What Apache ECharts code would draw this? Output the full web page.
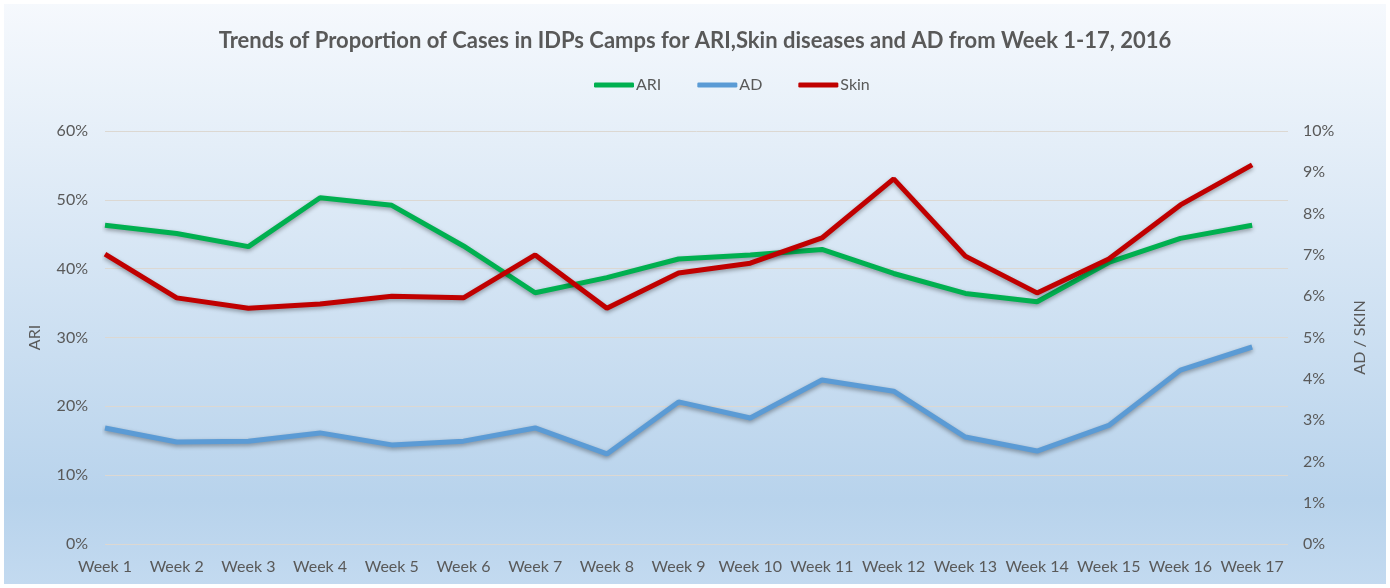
<!DOCTYPE html>
<html>
<head>
<meta charset="utf-8">
<script src="https://cdn.jsdelivr.net/npm/echarts@6/dist/echarts.min.js"></script>
<style>
  html, body { margin: 0; padding: 0; background: #fff; }
  #main { width: 1390px; height: 588px; }
</style>
</head>
<body>
<div id="main"></div>
<script>
// 周次 (x 轴)
const weeks = [1, 2, 3, 4, 5, 6, 7, 8, 9, 10, 11, 12, 13, 14, 15, 16, 17]
// 各病种占比 (%)，ARI 用左轴，AD / Skin 用右轴
const ari = [46.3, 45.1, 43.2, 50.3, 49.2, 43.3, 36.5, 38.7, 41.4, 42.0, 42.8, 39.3, 36.4, 35.2, 40.9, 44.4, 46.3]
const ad = [2.81, 2.47, 2.49, 2.69, 2.40, 2.49, 2.81, 2.18, 3.44, 3.05, 3.97, 3.70, 2.59, 2.25, 2.87, 4.21, 4.77]
const skin = [7.02, 5.96, 5.71, 5.81, 6.00, 5.96, 7.00, 5.71, 6.56, 6.80, 7.41, 8.84, 6.97, 6.08, 6.90, 8.21, 9.18]

const fontFamily = 'Lato, "Open Sans", sans-serif'
const textColor = '#595959'

// 把周次和数值拼成 [x, y] 点
function pairs(arr) {
  return weeks.map((w, i) => [w, arr[i]])
}

function lineSeries(name, color, arr, axisIndex) {
  return {
    name: name,
    type: 'line',
    yAxisIndex: axisIndex,
    data: pairs(arr),
    symbol: 'none',
    lineStyle: {
      color: color,
      width: 5,
      shadowColor: 'rgba(0,0,0,0.35)',
      shadowBlur: 4,
      shadowOffsetY: 2
    },
    itemStyle: { color: color }
  }
}

var myChart = echarts.init(document.getElementById('main'))

var option = {
  backgroundColor: new echarts.graphic.LinearGradient(0, 0, 0, 1, [
    { offset: 0, color: '#f6f9fd' },
    { offset: 0.85, color: '#b8d3ec' },
    { offset: 1, color: '#c3daf0' }
  ]),
  animation: false,
  title: {
    text: 'Trends of Proportion of Cases in IDPs Camps for ARI,Skin diseases and AD from Week 1-17, 2016',
    left: 'center',
    top: 25,
    textStyle: { fontFamily: fontFamily, fontSize: 22, fontWeight: 'bold', color: textColor }
  },
  legend: {
    top: 72,
    left: 589,
    icon: 'roundRect',
    itemWidth: 40,
    itemHeight: 5,
    itemGap: 36,
    textStyle: { fontFamily: fontFamily, fontSize: 16, color: textColor, padding: [0, 0, 0, -3] },
    data: ['ARI', 'AD', 'Skin']
  },
  grid: { left: 105, right: 102, top: 131, bottom: 44, containLabel: false },
  xAxis: {
    type: 'value',
    min: 1,
    max: 17.5,
    interval: 1,
    axisLine: { show: false },
    axisTick: { show: false },
    splitLine: { show: false },
    axisLabel: {
      margin: 15,
      fontFamily: fontFamily,
      fontSize: 16,
      color: textColor,
      showMaxLabel: false,
      formatter: v => Number.isInteger(v) ? 'Week ' + v : ''
    }
  },
  yAxis: [
    {
      type: 'value',
      min: 0,
      max: 60,
      interval: 10,
      name: 'ARI',
      nameLocation: 'middle',
      nameRotate: 90,
      nameGap: 62,
      nameTextStyle: { fontFamily: fontFamily, fontSize: 16, color: textColor },
      axisLine: { show: false },
      axisTick: { show: false },
      axisLabel: { margin: 17, fontFamily: fontFamily, fontSize: 16, color: textColor, formatter: '{value}%' },
      splitLine: { lineStyle: { color: '#dcd8d2', width: 1 } }
    },
    {
      type: 'value',
      min: 0,
      max: 10,
      interval: 1,
      name: 'AD / SKIN',
      nameLocation: 'middle',
      nameRotate: 90,
      nameGap: 64,
      nameTextStyle: { fontFamily: fontFamily, fontSize: 16, color: textColor },
      axisLine: { show: false },
      axisTick: { show: false },
      axisLabel: { margin: 15, fontFamily: fontFamily, fontSize: 16, color: textColor, formatter: '{value}%' },
      splitLine: { show: false }
    }
  ],
  series: [
    lineSeries('ARI', '#00b050', ari, 0),
    lineSeries('AD', '#5b9bd5', ad, 1),
    lineSeries('Skin', '#c00000', skin, 1)
  ],
  graphic: [{
    type: 'rect',
    shape: { x: 0, y: 0, width: 1390, height: 588 },
    style: { fill: 'none', stroke: '#ffffff', lineWidth: 8 },
    silent: true
  }]
}

option && myChart.setOption(option)
</script>
</body>
</html>
